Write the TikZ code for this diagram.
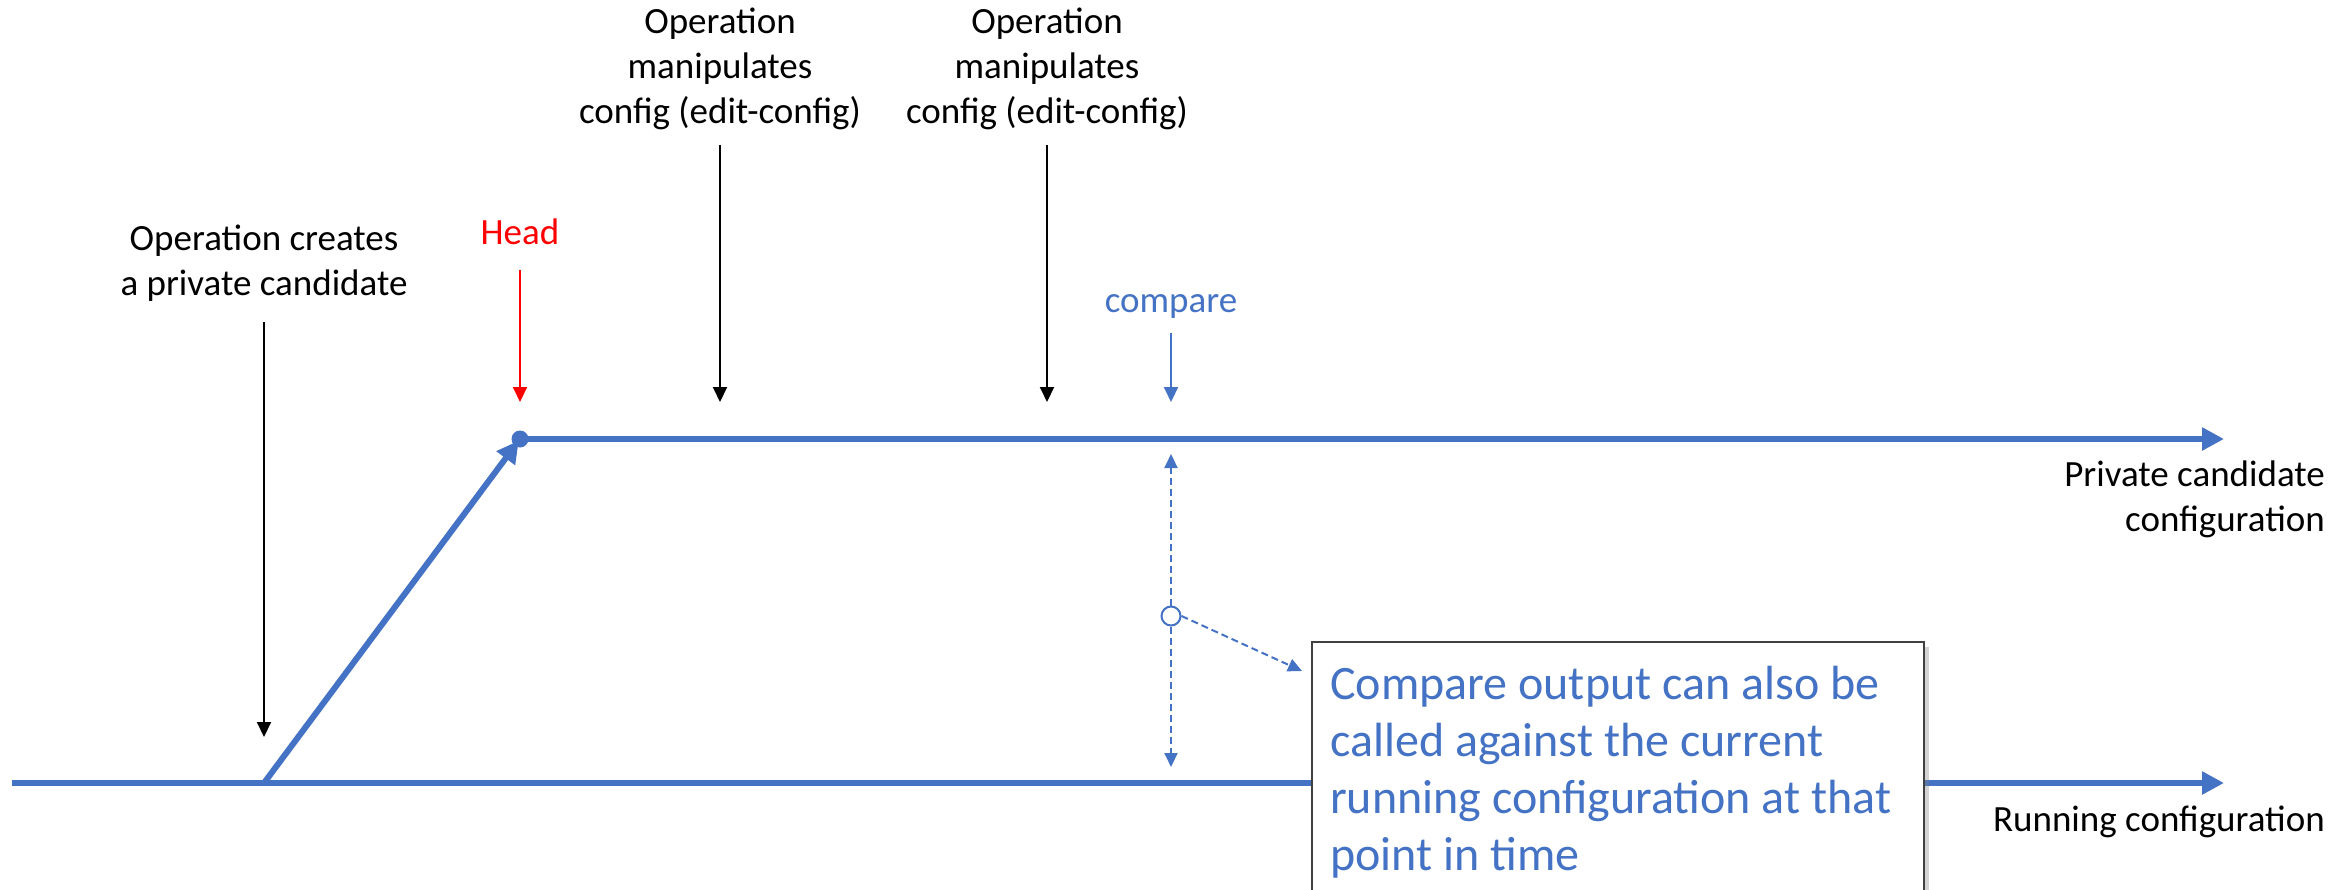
\documentclass[tikz,border=0pt]{standalone}
\usepackage{fontspec}
\setmainfont{Carlito}
\usetikzlibrary{arrows.meta,shadows}
\definecolor{lineblue}{HTML}{4472C4}
\begin{document}
\begin{tikzpicture}[x=1pt,y=-1pt,
  lbl/.style={font=\fontsize{37}{45}\selectfont, align=center, inner sep=0pt},
  ptr/.style={line width=2pt, -{Triangle[length=15pt,width=14pt]}},
  track/.style={line width=6pt, lineblue, -{Triangle[length=22pt,width=22pt]}},
  dashline/.style={lineblue, line width=2pt, dash pattern=on 7pt off 4pt},
  dashtip/.style={-{Triangle[length=14pt,width=13pt]}},
]
\useasboundingbox (0,0) rectangle (2349,890);
\clip (0,0) rectangle (2349,890);

% the two configuration tracks
\coordinate (runStart) at (12,783);
\coordinate (runEnd) at (2224,783);
\coordinate (fork) at (264,783);
\coordinate (head) at (520,439);
\coordinate (candEnd) at (2224,439);

\draw[track] (runStart) -- (runEnd);
\draw[track, shorten >=2pt] (fork) -- (head);
\draw[track] (head) -- (candEnd);
\fill[lineblue] (head) circle (8.5);

\node[lbl, anchor=east] (candlbl) at (2325,499) {\hfill Private candidate\\\hfill configuration};
\node[lbl, anchor=east] (runlbl) at (2325,822) {Running configuration};

% operation creating the candidate
\node[lbl] (create) at (264,263) {Operation creates\\a private candidate};
\coordinate (createTop) at (264,322);
\coordinate (createTip) at (264,737);
\draw[ptr] (createTop) -- (createTip);

% head marker
\node[lbl, text=red] (headlbl) at (520,232) {Head};
\coordinate (headTop) at (520,270);
\coordinate (headTip) at (520,402);
\draw[ptr, red] (headTop) -- (headTip);

% edit-config operations
\node[lbl] (edit1) at (720,69) {Operation\\manipulates\\config (edit-config)};
\coordinate (edit1Top) at (720,145);
\coordinate (edit1Tip) at (720,402);
\draw[ptr] (edit1Top) -- (edit1Tip);

\node[lbl] (edit2) at (1047,69) {Operation\\manipulates\\config (edit-config)};
\coordinate (edit2Top) at (1047,145);
\coordinate (edit2Tip) at (1047,402);
\draw[ptr] (edit2Top) -- (edit2Tip);

% compare point
\node[lbl, text=lineblue] (cmplbl) at (1171,306) {compare};
\coordinate (cmpTop) at (1171,333);
\coordinate (cmpTip) at (1171,402);
\draw[ptr, lineblue] (cmpTop) -- (cmpTip);

\node[circle, draw=lineblue, line width=2pt, fill=white, minimum size=19pt, inner sep=0pt] (cmpDot) at (1171,616) {};
\coordinate (cmpUp) at (1171,454);
\coordinate (cmpDown) at (1171,767);
\coordinate (noteTip) at (1302,671);
\draw[dashline, dashtip] (cmpDot.north) -- (cmpUp);
\draw[dashline, dashtip] (cmpDot.south) -- (cmpDown);
\draw[dashline, dashtip] (cmpDot.east) -- (noteTip);

% explanatory note
\node[anchor=north west, draw=black!75, line width=1.5pt, fill=white,
      minimum width=612pt, minimum height=300pt, inner sep=0pt,
      drop shadow={shadow xshift=5pt, shadow yshift=-5pt, opacity=0.35}]
      (note) at (1311,641) {};
\node[anchor=north west, inner sep=0pt, align=left, text=lineblue,
      font=\fontsize{48}{57}\selectfont] (notetext) at (1330,666)
      {Compare output can also be\\called against the current\\running configuration at that\\point in time};
\end{tikzpicture}
\end{document}
